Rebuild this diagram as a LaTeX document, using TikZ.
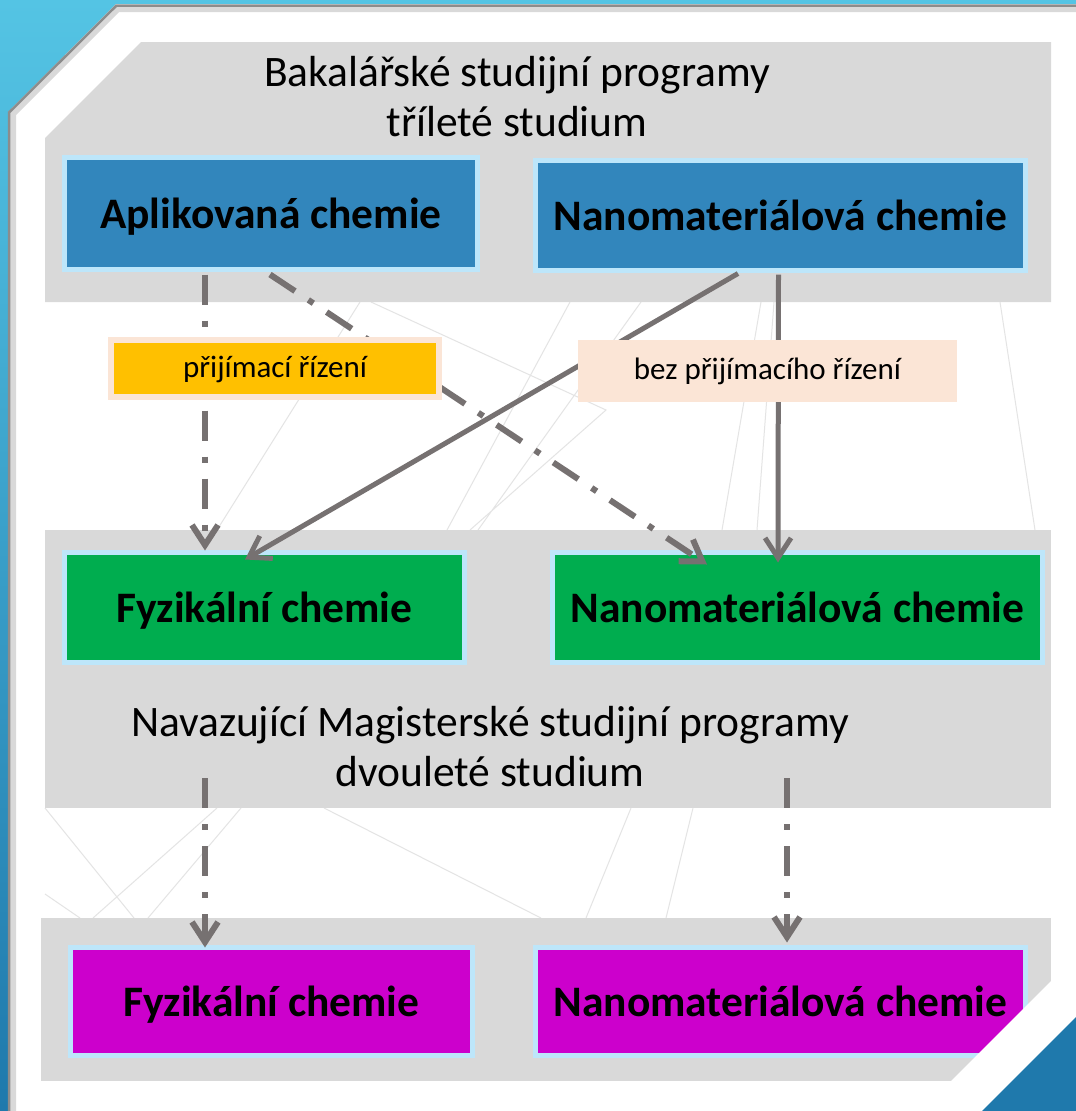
\documentclass[tikz,border=0pt]{standalone}
\usepackage{fontspec}
\setmainfont{Carlito}
\usetikzlibrary{arrows.meta}

\definecolor{framebluetop}{RGB}{84,196,228}
\definecolor{frameblue}{RGB}{31,121,172}
\definecolor{panelgray}{RGB}{217,217,217}
\definecolor{bachblue}{RGB}{50,134,188}
\definecolor{masgreen}{RGB}{0,173,79}
\definecolor{docmagenta}{RGB}{204,0,204}
\definecolor{edgeblue}{RGB}{189,230,250}
\definecolor{gold}{RGB}{255,192,0}
\definecolor{peach}{RGB}{251,229,214}
\definecolor{arrowgray}{RGB}{118,113,113}
\definecolor{faint}{RGB}{228,228,228}

\begin{document}
\begin{tikzpicture}[
                    x=1pt,
                    y=-1pt,
                    >={Straight Barb[length=20pt,width=26pt]},
                    line join=miter
                ]
                \tikzstyle{prog}=[draw=edgeblue,line width=5pt,text=black,inner sep=0pt,text height=33pt,text depth=4pt,font=\fontsize{43.5}{50}\selectfont\bfseries]
                \tikzstyle{note}=[draw=peach,fill=peach,line width=6pt,text=black,inner sep=0pt,text height=23pt,text depth=6pt,font=\fontsize{31}{36}\selectfont]
                \tikzstyle{heading}=[align=center,text=black,font=\fontsize{43.5}{50}\selectfont]
                \tikzstyle{entry}=[->,draw=arrowgray,line width=6pt,dash pattern=on 30pt off 16pt on 6pt off 16pt]
                \tikzstyle{direct}=[->,draw=arrowgray,line width=5pt]
                \tikzstyle{deco}=[draw=faint,line width=1pt]

                \useasboundingbox (0,0) rectangle (1076,1111);

                % frame
                \shade[top color=framebluetop,bottom color=frameblue] (0,0) rectangle (1076,1111);
                \fill[white] (8,1111) -- (8,112) -- (116,4) -- (1076,4) -- (1076,1111) -- cycle;
                \draw[black!15,line width=6pt] (13,1111) -- (13,114) -- (118,9) -- (1076,9);
                \draw[black!45,line width=2.5pt] (9,1111) -- (9,112.5) -- (116.5,5.5) -- (1076,5.5);

                % background lines
                \draw[deco]
                (371,302) -- (606,410) -- (470,530)
                (360,302) -- (217,530)
                (570,302) -- (447,530)
                (641,302) -- (478,530)
                (761,302) -- (722,530)
                (774,302) -- (757,530)
                (1000,302) -- (1035,530)
                (45,808) -- (134,918)
                (217,808) -- (93,918)
                (241,808) -- (148,918)
                (324,808) -- (541,918)
                (631,808) -- (586,918)
                (693,808) -- (666,918)
                (45,894) -- (80,918)
                ;

                % panels
                \fill[panelgray] (45,302) -- (45,138) -- (141,42) -- (1051,42) -- (1051,302) -- cycle;
                \fill[panelgray] (45,530) rectangle (1051,808);
                \fill[panelgray] (41,918) rectangle (1051,1081);

                \node[heading] (bachtitle) at (517,97) {Bakalářské studijní programy\\tříleté studium};
                \node[heading] (mastitle) at (490,747) {Navazující Magisterské studijní programy\\dvouleté studium};

                % programmes
                \node[prog,fill=bachblue,minimum width=413pt,minimum height=112pt] (apl) at (271,213.5) {Aplikovaná chemie};
                \node[prog,fill=bachblue,minimum width=490pt,minimum height=110pt] (nanobc) at (780.5,215.5) {Nanomateriálová chemie};
                \node[prog,fill=masgreen,minimum width=400pt,minimum height=110pt] (fyzmg) at (264.5,607.5) {Fyzikální chemie};
                \node[prog,fill=masgreen,minimum width=490pt,minimum height=110pt] (nanomg) at (797.5,607.5) {Nanomateriálová chemie};
                \node[prog,fill=docmagenta,minimum width=402pt,minimum height=108pt] (fyzph) at (271.5,1001.5) {Fyzikální chemie};
                \node[prog,fill=docmagenta,minimum width=490pt,minimum height=108pt] (nanoph) at (780.5,1001.5) {Nanomateriálová chemie};

                \coordinate (fyzfrom) at (205,778);
                \coordinate (nanofrom) at (787,778);

                \draw[entry] ([xshift=-66pt,yshift=-2.5pt]apl.south) -- ([xshift=-59.5pt,yshift=-0.5pt]fyzmg.north);
                \draw[entry] ([xshift=-1pt,yshift=-2.5pt]apl.south) -- ([xshift=-90.5pt,yshift=-14.5pt]nanomg.north);
                \draw[direct] ([xshift=-42.5pt,yshift=-0.5pt]nanobc.south) -- ([xshift=-19.5pt,yshift=-9.5pt]fyzmg.north);
                \draw[direct] ([xshift=-2pt,yshift=-1.5pt]nanobc.south) -- ([xshift=-19.5pt,yshift=-12.5pt]nanomg.north);
                \draw[entry] (fyzfrom) -- ([xshift=-66.5pt,yshift=-2.5pt]fyzph.north);
                \draw[entry] (nanofrom) -- ([xshift=6.5pt,yshift=2.5pt]nanoph.north);

                % labels
                \node[note,fill=gold,minimum width=328pt,minimum height=57pt] (adm) at (275,368.5) {přijímací řízení};
                \node[note,minimum width=373pt,minimum height=56pt] (noadm) at (767.5,371) {bez přijímacího řízení};

                % corner
                \fill[white] (1076,956) -- (1076,1111) -- (921,1111) -- cycle;
                \fill[frameblue] (1076,1017) -- (1076,1111) -- (982,1111) -- cycle;
            \end{tikzpicture}
\end{document}
